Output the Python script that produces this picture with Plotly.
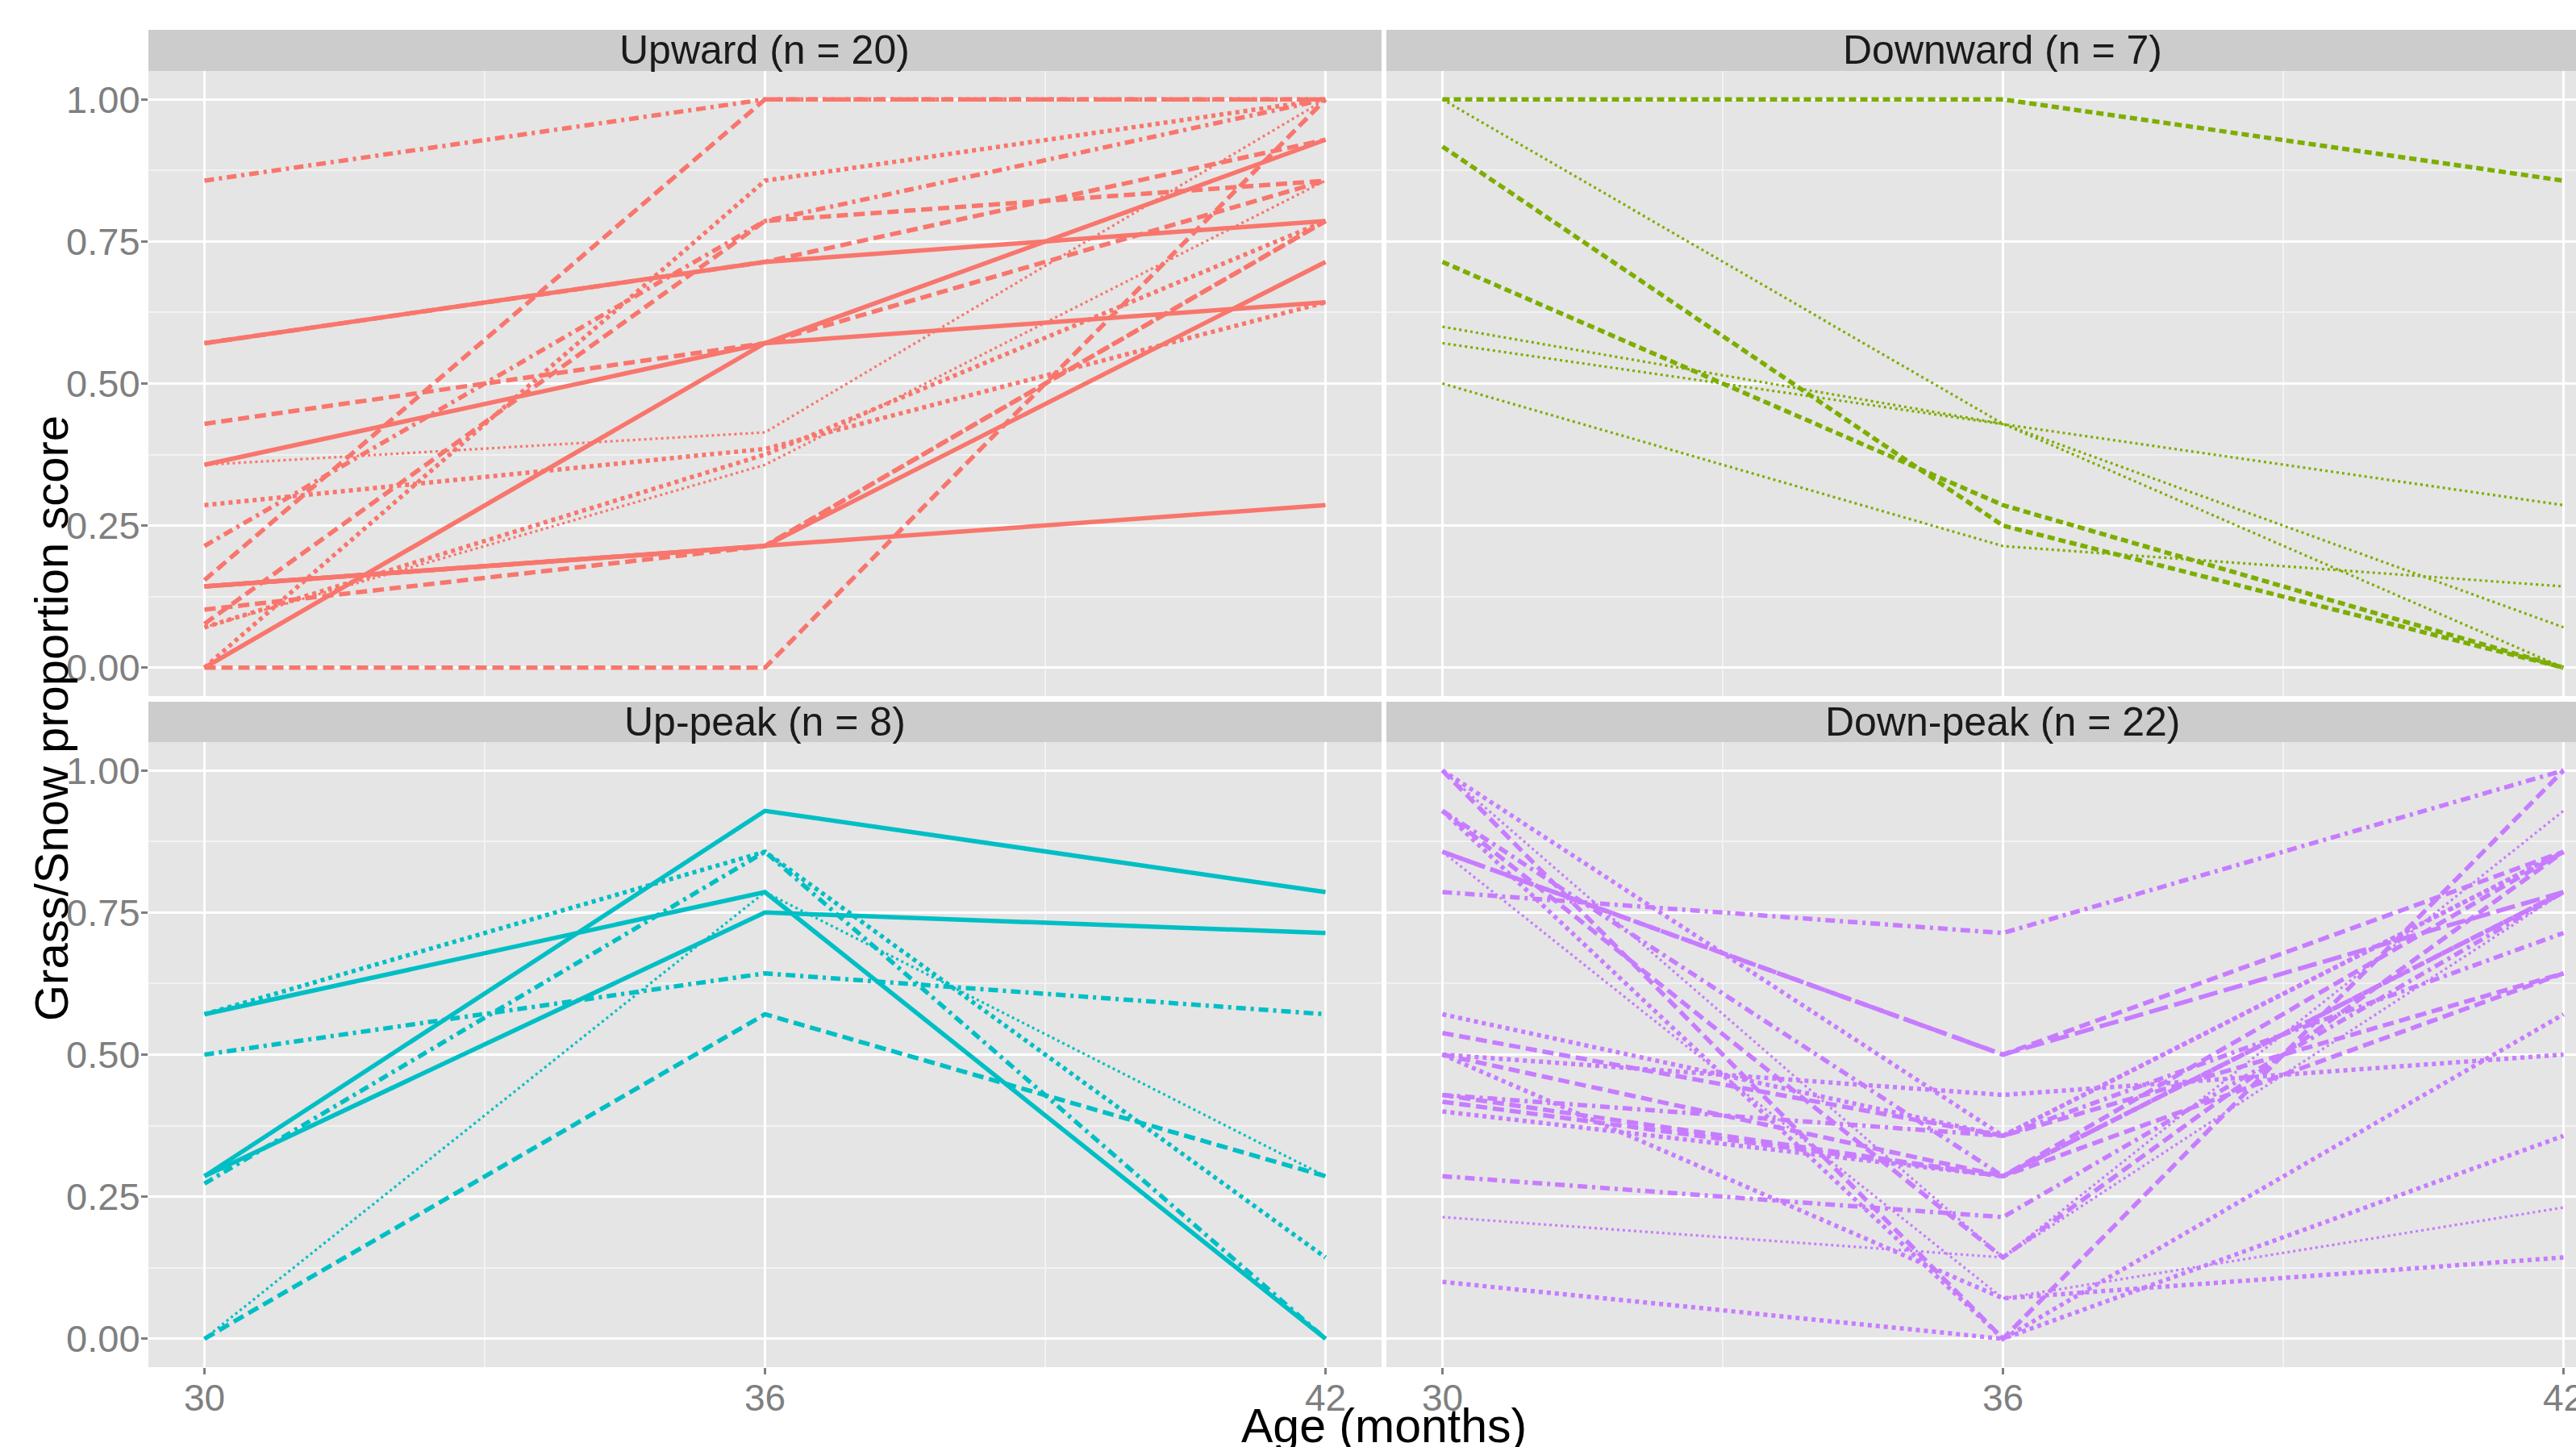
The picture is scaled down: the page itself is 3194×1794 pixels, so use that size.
import plotly.graph_objects as go

# ---------------- data ----------------
AGES = [30, 36, 42]
X_TICKS = [30, 36, 42]
Y_TICKS = [0.0, 0.25, 0.5, 0.75, 1.0]
Y_TICK_LABELS = ["0.00", "0.25", "0.50", "0.75", "1.00"]

PANEL_TITLES = ["Upward (n = 20)", "Downward (n = 7)", "Up-peak (n = 8)", "Down-peak (n = 22)"]

# Upward: scores at 30, 36, 42 months, one entry per child
UP_30 = [0.857, 0.154, 0.571, 0.429, 0.357, 0.0, 0.357, 0.286, 0.214, 0.143,
         0.102, 0.077, 0.0, 0.0, 0.143, 0.071, 0.071, 0.571, 0.0, 0.143]
UP_36 = [1.0, 1.0, 0.714, 0.571, 0.571, 0.571, 0.414, 0.385, 0.786, 0.214,
         0.214, 0.786, 0.857, 0.0, 0.214, 0.375, 0.357, 0.714, 0.571, 0.214]
UP_42 = [1.0, 1.0, 0.786, 0.857, 0.929, 0.643, 1.0, 0.643, 1.0, 0.286,
         0.786, 0.857, 1.0, 1.0, 0.714, 0.786, 0.857, 0.929, 0.643, 0.786]
UP_TYPE = ["dotdash", "dashed", "solid", "dashed", "solid", "solid", "dotted_thin", "dotted",
           "dotdash", "solid", "dashed", "dashed", "dotted", "dashed", "solid", "dotted",
           "dotted_thin", "dashed", "dotted_thin", "dashed"]

# Downward
DOWN_30 = [1.0, 1.0, 0.917, 0.714, 0.6, 0.571, 0.5]
DOWN_36 = [1.0, 0.429, 0.25, 0.286, 0.429, 0.429, 0.214]
DOWN_42 = [0.857, 0.0, 0.0, 0.0, 0.071, 0.286, 0.143]
DOWN_TYPE = ["shortdash", "dotted_thin", "shortdash", "shortdash", "dotted_thin", "dotted_thin", "dotted_thin"]

# Up-peak
UPK_30 = [0.286, 0.571, 0.286, 0.571, 0.273, 0.5, 0.0, 0.0]
UPK_36 = [0.929, 0.786, 0.75, 0.857, 0.857, 0.643, 0.571, 0.786]
UPK_42 = [0.786, 0.0, 0.714, 0.143, 0.0, 0.571, 0.286, 0.286]
UPK_TYPE = ["solid", "solid", "solid", "dotted", "dotdash", "dotdash", "dashed", "dotted_thin"]

# Down-peak
DPK_30 = [0.786, 0.857, 0.857, 0.5, 1.0, 0.538, 0.429, 1.0, 0.929, 0.929, 0.857,
          0.571, 0.5, 0.5, 0.286, 0.214, 0.1, 0.417, 0.4, 0.429, 1.0, 0.929]
DPK_36 = [0.714, 0.5, 0.5, 0.429, 0.357, 0.357, 0.357, 0.0, 0.143, 0.286, 0.071,
          0.357, 0.286, 0.071, 0.214, 0.143, 0.0, 0.286, 0.286, 0.286, 0.143, 0.0]
DPK_42 = [1.0, 0.786, 0.857, 0.5, 0.857, 0.643, 0.714, 1.0, 0.857, 0.786, 0.231,
          0.857, 0.786, 0.143, 0.786, 0.929, 0.571, 0.643, 0.786, 0.857, 0.786, 0.357]
DPK_TYPE = ["dotdash", "longdash", "dashed", "dotted", "dotted", "dashed", "dotdash", "dashed",
            "dashed", "dotdash", "dotted_thin", "dotted", "dashed", "dotted", "dotdash",
            "dotted_thin", "dotted", "dashed", "dotted", "dashed", "dotted_thin", "dotted"]

# ---------------- styles ----------------
COLORS = ["#F8766D", "#7CAE00", "#00BFC4", "#C77CFF"]
DASH = {"solid": "solid", "dashed": "14px,7px", "shortdash": "9px,5px", "dotted": "5px,5px",
        "dotdash": "12px,6px,4px,6px", "longdash": "24px,8px", "dotted_thin": "3px,4px"}
WIDTH = {"solid": 5.5, "dashed": 5.5, "shortdash": 5.5, "dotted": 5.5, "dotdash": 5.5,
         "longdash": 5.5, "dotted_thin": 3.2}

W, H = 3194, 1794
FONT = "Liberation Sans, Arial, sans-serif"

def px(x):
    return x / W

def py(y):
    return 1 - y / H

# panel boxes in pixels (left, right, top, bottom)
LX = (184, 1713)
RX = (1719, W)
RX_FULL = 3247
TY = (88, 863)
BY = (920, 1695)
STRIP_T = (37, 88)
STRIP_B = (870, 920)
PX_PER_MONTH = (1713 - 184) / 13.2
LEFT_RANGE = [29.4, 42.6]
RIGHT_RANGE = [29.4, 29.4 + (W - 1719) / PX_PER_MONTH]

fig = go.Figure()

panels = [
    (UP_30, UP_36, UP_42, UP_TYPE, "x", "y"),
    (DOWN_30, DOWN_36, DOWN_42, DOWN_TYPE, "x2", "y2"),
    (UPK_30, UPK_36, UPK_42, UPK_TYPE, "x3", "y3"),
    (DPK_30, DPK_36, DPK_42, DPK_TYPE, "x4", "y4"),
]
for i, (a, b, c, t, xa, ya) in enumerate(panels):
    for v30, v36, v42, lt in zip(a, b, c, t):
        fig.add_trace(go.Scatter(
            x=AGES, y=[v30, v36, v42], mode="lines",
            line=dict(color=COLORS[i], width=WIDTH[lt], dash=DASH[lt]),
            xaxis=xa, yaxis=ya, showlegend=False, hoverinfo="skip"))

def xaxis(domain, rng, anchor, labels):
    return dict(domain=domain, range=rng, anchor=anchor, tickvals=X_TICKS,
                ticktext=[str(v) for v in X_TICKS], automargin=False,
                showticklabels=labels, ticks="outside" if labels else "",
                ticklen=8, tickwidth=2.5, tickcolor="#7F7F7F", ticklabelstandoff=-10,
                ticklabeloverflow="allow",
                tickfont=dict(family=FONT, size=46, color="#7F7F7F"),
                showgrid=True, gridcolor="#FFFFFF", gridwidth=3,
                minor=dict(tickvals=[33, 39], showgrid=True, gridcolor="#F2F2F2", gridwidth=1.8),
                zeroline=False, showline=False, fixedrange=True)

def yaxis(domain, anchor, labels):
    return dict(domain=domain, range=[-0.05, 1.05], anchor=anchor, tickvals=Y_TICKS,
                ticktext=Y_TICK_LABELS, showticklabels=labels, automargin=False,
                ticks="outside" if labels else "", ticklen=8, tickwidth=2.5,
                tickcolor="#7F7F7F", ticklabelstandoff=-8,
                tickfont=dict(family=FONT, size=47, color="#7F7F7F"),
                showgrid=True, gridcolor="#FFFFFF", gridwidth=3,
                minor=dict(tickvals=[0.125, 0.375, 0.625, 0.875], showgrid=True,
                           gridcolor="#F2F2F2", gridwidth=1.8),
                zeroline=False, showline=False, fixedrange=True)

xl = [px(LX[0]), px(LX[1])]
xr = [px(RX[0]), 1.0]
yt = [py(TY[1]), py(TY[0])]
yb = [py(BY[1]), py(BY[0])]

fig.update_layout(
    width=W, height=H, margin=dict(l=0, r=0, t=0, b=0, autoexpand=False),
    paper_bgcolor="#FFFFFF", plot_bgcolor="#E5E5E5", showlegend=False,
    font=dict(family=FONT),
    xaxis=xaxis(xl, LEFT_RANGE, "y", False),
    xaxis2=xaxis(xr, RIGHT_RANGE, "y2", False),
    xaxis3=xaxis(xl, LEFT_RANGE, "y3", True),
    xaxis4=xaxis(xr, RIGHT_RANGE, "y4", True),
    yaxis=yaxis(yt, "x", True),
    yaxis2=yaxis(yt, "x2", False),
    yaxis3=yaxis(yb, "x3", True),
    yaxis4=yaxis(yb, "x4", False),
)

shapes = []
annotations = []
strip_boxes = [(LX, STRIP_T), (RX, STRIP_T), (LX, STRIP_B), (RX, STRIP_B)]
centers = [(LX[0] + LX[1]) / 2, (RX[0] + RX_FULL) / 2, (LX[0] + LX[1]) / 2, (RX[0] + RX_FULL) / 2]
for (sx, sy), cx, title in zip(strip_boxes, centers, PANEL_TITLES):
    shapes.append(dict(type="rect", xref="paper", yref="paper",
                       x0=px(sx[0]), x1=min(px(sx[1]), 1.0), y0=py(sy[1]), y1=py(sy[0]),
                       fillcolor="#CCCCCC", line=dict(width=0), layer="below"))
    annotations.append(dict(text=title, xref="paper", yref="paper", x=px(cx),
                            y=py((sy[0] + sy[1]) / 2), xanchor="center", yanchor="middle",
                            showarrow=False, font=dict(family=FONT, size=50, color="#1A1A1A")))

annotations.append(dict(text="Age (months)", xref="paper", yref="paper",
                        x=px((184 + RX_FULL) / 2), y=py(1768), xanchor="center", yanchor="middle",
                        showarrow=False, font=dict(family=FONT, size=59, color="#000000")))
annotations.append(dict(text="Grass/Snow proportion score", xref="paper", yref="paper",
                        x=px(63), y=py(891), xanchor="center", yanchor="middle", textangle=-90,
                        showarrow=False, font=dict(family=FONT, size=58, color="#000000")))

fig.update_layout(shapes=shapes, annotations=annotations)

CLIP_JS = (
    "document.documentElement.style.overflow='hidden';"
    "document.body.style.margin='0px';document.body.style.overflow='hidden';"
    "document.querySelectorAll('.plotly-graph-div').forEach(function(d){d.style.overflow='hidden';});"
)
fig.write_html("out.html", config={"displayModeBar": False}, post_script=CLIP_JS)
